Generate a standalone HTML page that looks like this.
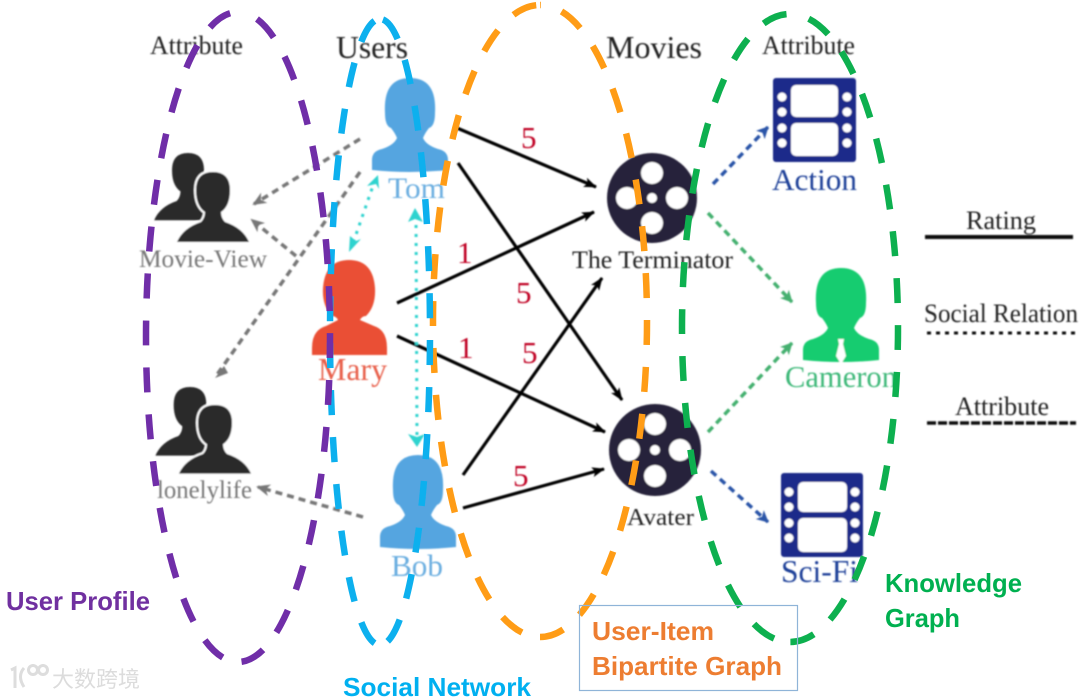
<!DOCTYPE html>
<html lang="en"><head><meta charset="utf-8"><title>Diagram</title>
<style>
html,body{margin:0;padding:0;background:#fff;width:1080px;height:698px;overflow:hidden}
svg{display:block}
.s{font-family:"Liberation Serif",serif}
.b{font-family:"Liberation Sans",sans-serif;font-weight:bold}
</style></head><body>
<svg xmlns="http://www.w3.org/2000/svg" width="1080" height="698" viewBox="0 0 1080 698">
<defs>
<filter id="bl" x="-5%" y="-5%" width="110%" height="110%"><feGaussianBlur stdDeviation="0.7"/></filter>
<filter id="bl2" x="-5%" y="-5%" width="110%" height="110%"><feGaussianBlur stdDeviation="0.35"/></filter>
<marker id="ak" markerWidth="14" markerHeight="12" refX="12" refY="5" orient="auto" markerUnits="userSpaceOnUse"><path d="M0,0L13,5L0,10L3,5Z" fill="#000"/></marker>
<marker id="ag" markerWidth="16" markerHeight="14" refX="12" refY="6" orient="auto" markerUnits="userSpaceOnUse"><path d="M0,0L14,6L0,12L4,6Z" fill="#777"/></marker>
<marker id="an" markerWidth="14" markerHeight="14" refX="11" refY="6" orient="auto" markerUnits="userSpaceOnUse"><path d="M0,0L12,6L0,12L3,6Z" fill="#2a55a8"/></marker>
<marker id="am" markerWidth="14" markerHeight="14" refX="11" refY="6" orient="auto" markerUnits="userSpaceOnUse"><path d="M0,0L12,6L0,12L3,6Z" fill="#45b070"/></marker>
<path id="person" d="M-38,82Q-38,73-28,71Q-16,67-13,60Q-15,55-19,50Q-25,48-25,35Q-27,0 0,0Q27,0 25,35Q25,48 19,50Q15,55 13,60Q16,67 28,71Q38,73 38,82L38,92Q0,96-38,92Z"/>
<path id="mini" d="M-36,70Q-30,56-12,50Q-8,46-8,40Q-17,34-17,18Q-17,0 0,0Q17,0 17,18Q17,34 8,40Q8,46 12,50Q30,56 36,70Z"/>
</defs>

<g filter="url(#bl)">
<!-- reels -->
<circle cx="652" cy="198" r="45" fill="#26243a"/>
<g fill="#fff"><circle cx="652" cy="173" r="11"/><circle cx="652" cy="223" r="11"/><circle cx="627" cy="198" r="11"/><circle cx="677" cy="198" r="11"/><circle cx="652" cy="198" r="5"/></g>
<circle cx="655" cy="450" r="46" fill="#26243a"/>
<g fill="#fff"><circle cx="655" cy="424" r="11"/><circle cx="655" cy="476" r="11"/><circle cx="629" cy="450" r="11"/><circle cx="680" cy="450" r="11"/><circle cx="655" cy="450" r="5"/></g>

<!-- film strips -->
<rect x="773" y="78" width="83" height="84" rx="3" fill="#1a2a8a"/>
<g fill="#fff"><rect x="791" y="85" width="47" height="32" rx="5"/><rect x="791" y="123" width="47" height="33" rx="5"/>
<circle cx="782" cy="97" r="4.5"/><circle cx="782" cy="112" r="4.5"/><circle cx="782" cy="128" r="4.5"/><circle cx="782" cy="143" r="4.5"/>
<circle cx="847" cy="97" r="4.5"/><circle cx="847" cy="112" r="4.5"/><circle cx="847" cy="128" r="4.5"/><circle cx="847" cy="143" r="4.5"/></g>
<rect x="781" y="473" width="82" height="84" rx="3" fill="#1a2a8a"/>
<g fill="#fff"><rect x="798" y="482" width="49" height="30" rx="5"/><rect x="798" y="518" width="49" height="34" rx="5"/>
<circle cx="789" cy="492" r="4.5"/><circle cx="789" cy="507" r="4.5"/><circle cx="789" cy="523" r="4.5"/><circle cx="789" cy="538" r="4.5"/>
<circle cx="855" cy="492" r="4.5"/><circle cx="855" cy="507" r="4.5"/><circle cx="855" cy="523" r="4.5"/><circle cx="855" cy="538" r="4.5"/></g>

<!-- people -->
<use href="#person" transform="translate(410,78)" fill="#55a5e0"/>
<use href="#person" transform="translate(418,455)" fill="#55a5e0"/>
<path d="M312,348Q312,330 326,326L338,320Q336,316 332,316Q322,306 323,288Q325,260 349,260Q373,260 375,288Q376,306 366,316Q362,316 360,320L374,326Q387,330 387,348L387,355L312,355Z" fill="#ea5035"/>
<use href="#person" transform="translate(841,268)" fill="#14cc70"/>
<path d="M838,339h6l-1,5 3,12-5,8-5-8 3-12z" fill="#fff"/>

<!-- groups -->
<use href="#mini" transform="translate(188,153) scale(.94,.96)" fill="#2b2b2b"/>
<use href="#mini" transform="translate(213,172)" fill="#2b2b2b" stroke="#fff" stroke-width="4" paint-order="stroke"/>
<use href="#mini" transform="translate(190,387) scale(.96,.98)" fill="#2b2b2b"/>
<use href="#mini" transform="translate(215,405) scale(1,.98)" fill="#2b2b2b" stroke="#fff" stroke-width="4" paint-order="stroke"/>

<!-- rating arrows -->
<g stroke="#000" stroke-width="3.2" fill="none">
<line x1="457" y1="128" x2="596" y2="187" marker-end="url(#ak)"/>
<line x1="458" y1="163" x2="622" y2="400" marker-end="url(#ak)"/>
<line x1="397" y1="303" x2="594" y2="212" marker-end="url(#ak)"/>
<line x1="397" y1="336" x2="605" y2="432" marker-end="url(#ak)"/>
<line x1="463" y1="475" x2="602" y2="278" marker-end="url(#ak)"/>
<line x1="463" y1="508" x2="604" y2="469" marker-end="url(#ak)"/>
</g>

<!-- gray dashed -->
<g stroke="#777" stroke-width="3.5" fill="none" stroke-dasharray="7 5">
<line x1="360" y1="139" x2="254" y2="204" marker-end="url(#ag)"/>
<line x1="360" y1="172" x2="216" y2="376"/>
<line x1="296" y1="256" x2="252" y2="220" marker-end="url(#ag)"/>
<line x1="363" y1="517" x2="258" y2="487" marker-end="url(#ag)"/>
</g>
<path d="M224,366L215,378L228,373Z" fill="#777"/>

<!-- social -->
<g stroke="#2fd3cf" stroke-width="3" fill="none" stroke-dasharray="3 6">
<line x1="375" y1="180" x2="352" y2="246"/>
<line x1="416" y1="216" x2="417" y2="441"/>
</g>
<g fill="#2fd3cf">
<path d="M378,175L367,186L376,184L379,189Z"/><path d="M349,252L350,236L356,241L361,239Z"/>
<path d="M415,208L408,222L415,219L423,222Z"/><path d="M417,447L408,434L417,437L425,434Z"/>
</g>

<!-- attribute arrows -->
<g stroke-width="3.5" fill="none" stroke-dasharray="7 5">
<line x1="713" y1="184" x2="768" y2="127" stroke="#2a55a8" marker-end="url(#an)"/>
<line x1="711" y1="471" x2="768" y2="522" stroke="#2a55a8" marker-end="url(#an)"/>
<line x1="708" y1="213" x2="792" y2="302" stroke="#45b070" marker-end="url(#am)"/>
<line x1="708" y1="432" x2="792" y2="343" stroke="#45b070" marker-end="url(#am)"/>
</g>

<!-- legend lines -->
<line x1="925" y1="237" x2="1073" y2="237" stroke="#111" stroke-width="4"/>
<line x1="927" y1="333" x2="1076" y2="333" stroke="#111" stroke-width="3" stroke-dasharray="4 5"/>
<line x1="927" y1="423" x2="1076" y2="423" stroke="#111" stroke-width="3.5" stroke-dasharray="9 2"/>

<!-- serif labels -->
<g class="s">
<text x="150" y="54" font-size="26" fill="#222" textLength="93" lengthAdjust="spacingAndGlyphs">Attribute</text>
<text x="336" y="58" font-size="32" fill="#222" textLength="72" lengthAdjust="spacingAndGlyphs">Users</text>
<text x="606" y="58" font-size="32" fill="#222" textLength="96" lengthAdjust="spacingAndGlyphs">Movies</text>
<text x="762" y="54" font-size="26" fill="#222" textLength="93" lengthAdjust="spacingAndGlyphs">Attribute</text>
<text x="388" y="198" font-size="30" fill="#6aaee0" textLength="57" lengthAdjust="spacingAndGlyphs">Tom</text>
<text x="318" y="380" font-size="32" fill="#e8604c" textLength="69" lengthAdjust="spacingAndGlyphs">Mary</text>
<text x="391" y="576" font-size="31" fill="#6aaee0" textLength="52" lengthAdjust="spacingAndGlyphs">Bob</text>
<text x="139" y="267" font-size="25" fill="#777" textLength="128" lengthAdjust="spacingAndGlyphs">Movie-View</text>
<text x="157" y="498" font-size="25" fill="#777" textLength="95" lengthAdjust="spacingAndGlyphs">lonelylife</text>
<text x="572" y="268" font-size="25.5" fill="#222" textLength="161" lengthAdjust="spacingAndGlyphs">The Terminator</text>
<text x="627" y="525" font-size="24.5" fill="#222" textLength="67" lengthAdjust="spacingAndGlyphs">Avater</text>
<text x="772" y="190" font-size="31" fill="#1f3f98" textLength="85" lengthAdjust="spacingAndGlyphs">Action</text>
<text x="781" y="582" font-size="31.5" fill="#1f3f98" textLength="77" lengthAdjust="spacingAndGlyphs">Sci-Fi</text>
<text x="785" y="387" font-size="30.5" fill="#3cb878" textLength="112" lengthAdjust="spacingAndGlyphs">Cameron</text>
<text x="966" y="229" font-size="26" fill="#222" textLength="70" lengthAdjust="spacingAndGlyphs">Rating</text>
<text x="924" y="322" font-size="26" fill="#222" textLength="154" lengthAdjust="spacingAndGlyphs">Social Relation</text>
<text x="955" y="415" font-size="26" fill="#222" textLength="94" lengthAdjust="spacingAndGlyphs">Attribute</text>
<g fill="#c00020" font-size="31">
<text x="521" y="148">5</text><text x="457" y="263">1</text><text x="516" y="303">5</text>
<text x="458" y="358">1</text><text x="522" y="363">5</text><text x="513" y="486">5</text>
</g>
</g>
</g>

<!-- dashed ellipses, drawn as halves from the top so each side keeps its own dash phase -->
<g filter="url(#bl2)" fill="none" stroke-width="6.5" stroke-dasharray="25 22">
<path d="M238,12A92,325 0 0 0 238,662" stroke="#6f2da8" stroke-dashoffset="-8"/>
<path d="M540,5A107,316 0 0 0 540,637" stroke="#ff9c12" stroke-dashoffset="-3.8"/>
<path d="M540,5A107,316 0 0 1 540,637" stroke="#ff9c12" stroke-dashoffset="-22.8"/>
<path d="M380,19A50,313 0 0 0 380,645" stroke="#0fb0ee" stroke-dashoffset="-6"/>
<path d="M380,19A50,313 0 0 1 380,645" stroke="#0fb0ee" stroke-dashoffset="-3"/>
<path d="M238,12A92,325 0 0 1 238,662" stroke="#6f2da8" stroke-dashoffset="-20.6"/>
<path d="M790,14A108,314 0 0 0 790,642" stroke="#0fb050" stroke-dashoffset="-3.5"/>
<path d="M790,14A108,314 0 0 1 790,642" stroke="#0fb050" stroke-dashoffset="-19.5"/>
</g>

<!-- bold captions -->
<rect x="579.5" y="605.5" width="218" height="85" fill="none" stroke="#8fb4d8" stroke-width="1.2"/>
<g class="b">
<text x="6" y="610" font-size="26" fill="#7030a0" textLength="144" lengthAdjust="spacingAndGlyphs">User Profile</text>
<text x="343" y="696" font-size="26" fill="#00b0f0" textLength="188" lengthAdjust="spacingAndGlyphs">Social Network</text>
<text x="592" y="640" font-size="26" fill="#ed7d31" textLength="122" lengthAdjust="spacingAndGlyphs">User-Item</text>
<text x="592" y="675" font-size="26" fill="#ed7d31" textLength="190" lengthAdjust="spacingAndGlyphs">Bipartite Graph</text>
<text x="885" y="592" font-size="26" fill="#00b050" textLength="137" lengthAdjust="spacingAndGlyphs">Knowledge</text>
<text x="885" y="627" font-size="26" fill="#00b050" textLength="75" lengthAdjust="spacingAndGlyphs">Graph</text>
</g>

<!-- watermark -->
<g fill="none" stroke="#ddd" stroke-width="3">
<path d="M11,670L15,668V688"/><path d="M24,668Q17,676 24,687"/><circle cx="33" cy="670" r="4.5"/><circle cx="43" cy="670" r="4.5"/>
</g>
<text x="52" y="687" font-size="22" fill="#dcdcdc" font-family="'Liberation Sans','Noto Sans CJK SC',sans-serif">大数跨境</text>
</svg>
</body></html>
